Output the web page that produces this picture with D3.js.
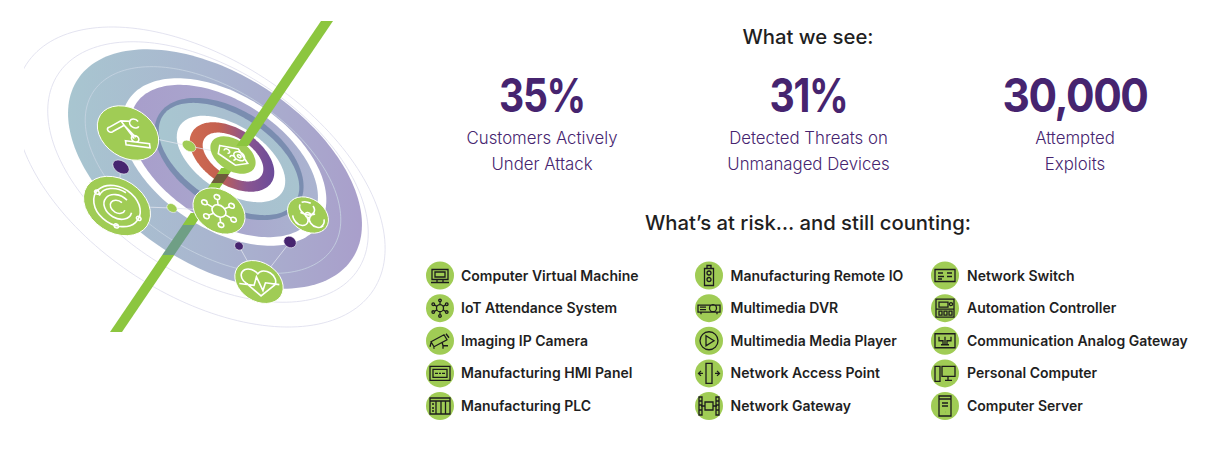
<!DOCTYPE html>
<html>
<head>
<meta charset="utf-8">
<script src="https://cdn.jsdelivr.net/npm/d3@7"></script>
<style>
html, body { margin: 0; padding: 0; background: #fff; }
svg { display: block; }
text { font-family: Inter, Lato, sans-serif; }
</style>
</head>
<body>
<svg id="chart" width="1207" height="468"></svg>
<script>
// text and values
const headings = ['What we see:', 'What\u2019s at risk\u2026 and still counting:'];
const statValues = [0.35, 0.31, 30000];
const statFormats = ['.0%', '.0%', ',d'];
const statLines = [
    ['Customers Actively', 'Under Attack'],
    ['Detected Threats on', 'Unmanaged Devices'],
    ['Attempted', 'Exploits']
];
const columnOne = ['Computer Virtual Machine', 'IoT Attendance System', 'Imaging IP Camera', 'Manufacturing HMI Panel', 'Manufacturing PLC'];
const columnTwo = ['Manufacturing Remote IO', 'Multimedia DVR', 'Multimedia Media Player', 'Network Access Point', 'Network Gateway'];
const columnThree = ['Network Switch', 'Automation Controller', 'Communication Analog Gateway', 'Personal Computer', 'Computer Server'];

const GREEN = '#a0cc55';
const LINE_GREEN = '#8cc63f';
const PURPLE = '#46246f';
const INK = '#1f1f1f';

const svg = d3.select('#chart');
const defs = svg.append('defs');

const addGradient = (id, x1, x2, stops) => {
    const g = defs.append('linearGradient')
        .attr('id', id)
        .attr('gradientUnits', 'userSpaceOnUse')
        .attr('x1', x1).attr('x2', x2).attr('y1', 0).attr('y2', 0);
    stops.forEach((c, i) => g.append('stop').attr('offset', i / (stops.length - 1)).attr('stop-color', c));
};

addGradient('outerRing', 65, 360, ['#a8c6d0', '#a9b5cf', '#a99fcb']);
addGradient('midRing', 130, 320, ['#a89ecb', '#a9a6cd', '#aab4d0']);
addGradient('lightRing', 160, 300, ['#a8c6d0', '#a9bfd0', '#a8c4cf']);
addGradient('hotRing', 190, 275, ['#cf6a50', '#c4604f', '#8a5590', '#6a4b9a']);

defs.append('clipPath').attr('id', 'artClip')
    .append('rect').attr('x', 24).attr('y', 21).attr('width', 370).attr('height', 311);

// target rings, all lying on one tilted plane
const TILT = 33;
const ringShapes = [
    { cx: 200, cy: 177, a: 207, b: 118, fill: 'none', stroke: '#dcdcec' },
    { cx: 208, cy: 172, a: 179, b: 103, fill: 'none', stroke: '#dcdcec' },
    { cx: 215, cy: 169, a: 164, b: 95, fill: 'url(#outerRing)' },
    { cx: 213, cy: 170, a: 143, b: 81, fill: 'none', stroke: '#c8d4e2' },
    { cx: 224, cy: 162, a: 114, b: 67, fill: '#fff' },
    { cx: 224, cy: 161, a: 105, b: 60, fill: 'url(#midRing)' },
    { cx: 229, cy: 159, a: 83, b: 49, fill: '#7a8db0' },
    { cx: 229, cy: 159, a: 79, b: 43, fill: 'url(#lightRing)' },
    { cx: 231, cy: 159, a: 61, b: 33, fill: '#fff' },
    { cx: 232, cy: 157, a: 47, b: 28, fill: 'url(#hotRing)' },
    { cx: 233, cy: 157, a: 34, b: 19, fill: '#fff' }
];

// ellipse outline in page coordinates, so the left-to-right gradients stay horizontal
const ringPath = d => {
    const t = TILT * Math.PI / 180;
    const pts = d3.range(0, 2 * Math.PI, Math.PI / 90).map(u => {
        const px = d.a * Math.cos(u), py = d.b * Math.sin(u);
        return [d.cx + px * Math.cos(t) - py * Math.sin(t), d.cy + px * Math.sin(t) + py * Math.cos(t)];
    });
    return d3.line().curve(d3.curveLinearClosed)(pts);
};

const art = svg.append('g').attr('clip-path', 'url(#artClip)');

art.selectAll('path.ring')
    .data(ringShapes)
    .join('path')
    .attr('class', 'ring')
    .attr('d', ringPath)
    .attr('fill', d => d.fill)
    .attr('stroke', d => d.stroke || 'none')
    .attr('stroke-width', 0.8);

// the green axis through the rings
const axisX = d3.scaleLinear().domain([21, 332]).range([327, 116]);
const AXIS_W = 6;
const axisBand = (y0, y1) =>
    `M${axisX(y0) - AXIS_W},${y0}L${axisX(y0) + AXIS_W},${y0}L${axisX(y1) + AXIS_W},${y1}L${axisX(y1) - AXIS_W},${y1}Z`;

const lowerAxis = [
    { y0: 168, y1: 174, fill: LINE_GREEN },
    { y0: 174, y1: 183, fill: '#6d5c3c' },
    { y0: 183, y1: 190, fill: LINE_GREEN },
    { y0: 213, y1: 225, fill: LINE_GREEN },
    { y0: 225, y1: 255, fill: '#6f9f85' },
    { y0: 255, y1: 332, fill: LINE_GREEN }
];
art.selectAll('path.axis')
    .data(lowerAxis)
    .join('path')
    .attr('class', 'axis')
    .attr('d', d => axisBand(d.y0, d.y1))
    .attr('fill', d => d.fill);

// thin connectors between the nodes
const connectors = [
    [[128, 133], [189, 146]], [[189, 146], [233, 155]],
    [[121, 167], [117, 206]], [[117, 206], [172, 208]], [[172, 208], [219, 211]],
    [[239, 246], [259, 282]], [[290, 242], [259, 282]]
];
art.selectAll('line.link')
    .data(connectors)
    .join('line')
    .attr('class', 'link')
    .attr('x1', d => d[0][0]).attr('y1', d => d[0][1])
    .attr('x2', d => d[1][0]).attr('y2', d => d[1][1])
    .attr('stroke', '#dfe3ee')
    .attr('stroke-width', 0.8);

const dots = [
    { x: 189, y: 146, rx: 7.5, ry: 5, fill: GREEN },
    { x: 172, y: 208, rx: 5.5, ry: 4, fill: GREEN },
    { x: 121, y: 167, rx: 9, ry: 6, fill: PURPLE },
    { x: 290, y: 242, rx: 6.5, ry: 5.5, fill: PURPLE },
    { x: 239, y: 246, rx: 4.5, ry: 4, fill: PURPLE }
];
art.selectAll('ellipse.dot')
    .data(dots)
    .join('ellipse')
    .attr('class', 'dot')
    .attr('rx', d => d.rx).attr('ry', d => d.ry)
    .attr('transform', d => `translate(${d.x},${d.y}) rotate(${TILT})`)
    .attr('fill', d => d.fill)
    .attr('stroke', '#fff')
    .attr('stroke-width', 0.5);

const circ = (x, y, r) => `M${x - r},${y}a${r},${r} 0 1,0 ${2 * r},0a${r},${r} 0 1,0 ${-2 * r},0`;

// spokes around a hub, used by both network glyphs
const hub = (r, spoke, dot, n, start) => {
    let p = circ(0, 0, r);
    d3.range(n).forEach(i => {
        const t = start + i * 2 * Math.PI / n;
        const c = Math.cos(t), s = Math.sin(t);
        p += `M${r * c},${r * s}L${spoke * c},${spoke * s}` + circ((spoke + dot) * c, (spoke + dot) * s, dot);
    });
    return p;
};

const bigNodes = [
    { x: 128, y: 133, r: 33, glyph: 'M-20,-4L-6,-14L4,-15M-17,1L-3,-9M-20,-4a3,3 0 1,0 3,5M-6,-14L6,6M-3,-9L8,4M4,-15a5,5 0 0,1 9,-1M4,-15a5,5 0 0,0 9,5' + circ(7, 6, 4) + 'M-4,10H22V15H-4Z' },
    { x: 117, y: 206, r: 36, glyph: circ(0, 0, 25) + 'M6,-5a8,8 0 1,0 2,9M12,-9a15,15 0 1,0 3,15M-18,-10a21,21 0 0,1 30,-8' + circ(-20, -14, 2.5) + circ(-4, 25, 2.5) + circ(22, 12, 2.5) },
    { x: 219, y: 211, r: 28, glyph: hub(7.5, 14, 3, 6, Math.PI / 6) },
    { x: 308, y: 215, r: 22, glyph: circ(0, 0, 3) + 'M-7,-12a8,8 0 1,0 14,0M-15,11a8,8 0 1,0 7,-13M15,11a8,8 0 1,1 -7,-13M-5,-15a12,12 0 0,1 10,0M-17,3a12,12 0 0,0 5,10M17,3a12,12 0 0,1 -5,10' },
    { x: 259, y: 282, r: 26, glyph: 'M0,17L-17,1a9,9 0 0,1 17,-11a9,9 0 0,1 17,11ZM-22,5H-6L-2,-6L3,10L7,0H22' },
    { x: 233, y: 155, r: 25, stroke: 0, glyph: 'M-13,-10H8L15,8L0,14L-17,2ZM-9,-4a3,3 0 1,1 3,3M-4,4a3,3 0 1,1 3,3' + circ(7, 0, 6) + 'M5,0a2,2 0 1,0 4,0a2,2 0 1,0 -4,0' }
];

const nodes = art.selectAll('g.node')
    .data(bigNodes)
    .join('g')
    .attr('class', 'node')
    .attr('transform', d => `translate(${d.x},${d.y}) rotate(${TILT}) scale(1,${d.stroke === 0 ? 0.62 : 0.74}) rotate(${-TILT})`);

nodes.append('circle')
    .attr('r', d => d.r)
    .attr('fill', GREEN)
    .attr('stroke', d => d.stroke === 0 ? 'none' : '#fff')
    .attr('stroke-width', 1)
    .attr('vector-effect', 'non-scaling-stroke');

nodes.append('path')
    .attr('d', d => d.glyph)
    .attr('fill', 'none')
    .attr('stroke', '#fff')
    .attr('stroke-width', 1.6)
    .attr('vector-effect', 'non-scaling-stroke');

art.append('path').attr('d', axisBand(21, 146)).attr('fill', LINE_GREEN);

// upper text block
svg.append('text')
    .attr('x', 808).attr('y', 44)
    .attr('text-anchor', 'middle')
    .attr('font-size', 20.3)
    .attr('font-weight', 500)
    .attr('fill', INK)
    .text(headings[0]);

const statX = d3.scalePoint().domain(d3.range(statValues.length)).range([542, 1075]);
// the original face is narrower than Inter, so squeeze the big figures to its widths
const statWidths = [86, 78, 145];

const stats = svg.selectAll('g.stat')
    .data(statValues)
    .join('g')
    .attr('class', 'stat')
    .attr('transform', (d, i) => `translate(${statX(i)},0)`)
    .attr('text-anchor', 'middle')
    .attr('fill', PURPLE);

stats.append('text')
    .attr('y', 112)
    .attr('font-size', 46)
    .attr('font-weight', 700)
    .attr('letter-spacing', -1.5)
    .attr('textLength', (d, i) => statWidths[i])
    .attr('lengthAdjust', 'spacingAndGlyphs')
    .text((d, i) => d3.format(statFormats[i])(d));

stats.each(function(d, i) {
    d3.select(this).selectAll('text.sub')
        .data(statLines[i])
        .join('text')
        .attr('class', 'sub')
        .attr('y', (t, j) => 144 + j * 26)
        .attr('font-size', 16.8)
        .attr('font-weight', 300)
        .text(t => t);
});

svg.append('text')
    .attr('x', 808).attr('y', 230)
    .attr('text-anchor', 'middle')
    .attr('font-size', 20.3)
    .attr('font-weight', 500)
    .attr('fill', INK)
    .text(headings[1]);

// small icons, drawn in a box of about 20 units around the circle centre
const smallGlyphs = {
    'Computer Virtual Machine': 'M-8,-6H8V4H-8ZM-5,-3.5H5V1.5H-5ZM-9,7H9M-3,4V7M3,4V7',
    'IoT Attendance System': hub(3.5, 6.5, 1.3, 6, Math.PI / 6),
    'Imaging IP Camera': 'M-9,1L4,-6L7,-1L-6,6ZM-6,5.5V8M-9,2L-10,6M2,1L3,5H8M3,5L3,8M6,-7L9,-3',
    'Manufacturing HMI Panel': 'M-10,-7H10V7H-10ZM-7,-4H7V4H-7ZM-5,0H-2M-1,0H1M2,0H5M-8.5,-5.5H-8.4M8.5,5.5H8.4',
    'Manufacturing PLC': 'M-10,-8H10V8H-10ZM-10,-5H10M-4,-5V8M1,-5V8M5.5,-5V8M-8,-2H-6M-8,2H-6M-8,5H-6',
    'Manufacturing Remote IO': 'M-4.5,-7H4.5V10H-4.5ZM-2,-7V-10H2V-7' + circ(0, -2.5, 2) + circ(0, 4, 2),
    'Multimedia DVR': 'M-11,-3H11V4H-11ZM-9,-1H-3M-9,1.5H-3' + circ(4, 0, 3.5) + 'M-8,4V6M8,4V6',
    'Multimedia Media Player': circ(0, 0, 9) + 'M-3,-5L5,0L-3,5Z',
    'Network Access Point': 'M-3,-10H3V10H-3ZM-6,0H-10M-8,-2.5L-10.5,0L-8,2.5M6,0H10M8,-2.5L10.5,0L8,2.5',
    'Network Gateway': 'M-4,-4H4V4H-4ZM-4,0H-8M4,0H8M-10,-9H-7V9H-10ZM7,-9H10V9H7ZM-10,-5H-7M-10,-1H-7M-10,4H-7M7,-5H10M7,-1H10M7,4H10',
    'Network Switch': 'M-10,-6H10V6H-10ZM-7,-2.5H-2M-7,1H-1M-7,3.5H-3M2,-2.5H7M2,1H7',
    'Automation Controller': 'M-9,-9H9V9H-9ZM-6,-6H3V-1H-6ZM-6,3H-3V7H-6ZM-1,3H2V7H-1ZM4,3H7V7H4ZM-9,1H9' + circ(6, -4, 1.5),
    'Communication Analog Gateway': 'M-10,-7H10V7H-10ZM-6,-4V0H-2V4M0,-4V4M6,-4V0H2V4M-4,4H4',
    'Personal Computer': 'M-10,-7H-5V8H-10ZM-3,-7H10V3H-3ZM3,3V7M0,7H7',
    'Computer Server': 'M-6,-10H6V10H-6ZM-6,-7H6M-3,-3H3M-3,0H3M0,6H0.1'
};

const rowY = d3.scalePoint().domain(d3.range(5)).range([275.5, 406]);
const listColumns = [
    { labels: columnOne, cx: 440, tx: 461 },
    { labels: columnTwo, cx: 709, tx: 730.5 },
    { labels: columnThree, cx: 945, tx: 967 }
];

listColumns.forEach(col => {
    const rows = svg.append('g').selectAll('g')
        .data(col.labels)
        .join('g')
        .attr('transform', (d, i) => `translate(0,${rowY(i)})`);

    rows.append('circle')
        .attr('cx', col.cx)
        .attr('r', 14)
        .attr('fill', GREEN);

    rows.append('path')
        .attr('transform', `translate(${col.cx},0)`)
        .attr('d', d => smallGlyphs[d])
        .attr('fill', 'none')
        .attr('stroke', '#1c1c1c')
        .attr('stroke-width', 1.3);

    rows.append('text')
        .attr('x', col.tx)
        .attr('y', 5)
        .attr('font-size', 14)
        .attr('font-weight', 600)
        .attr('fill', INK)
        .text(d => d);
});
</script>
</body>
</html>
